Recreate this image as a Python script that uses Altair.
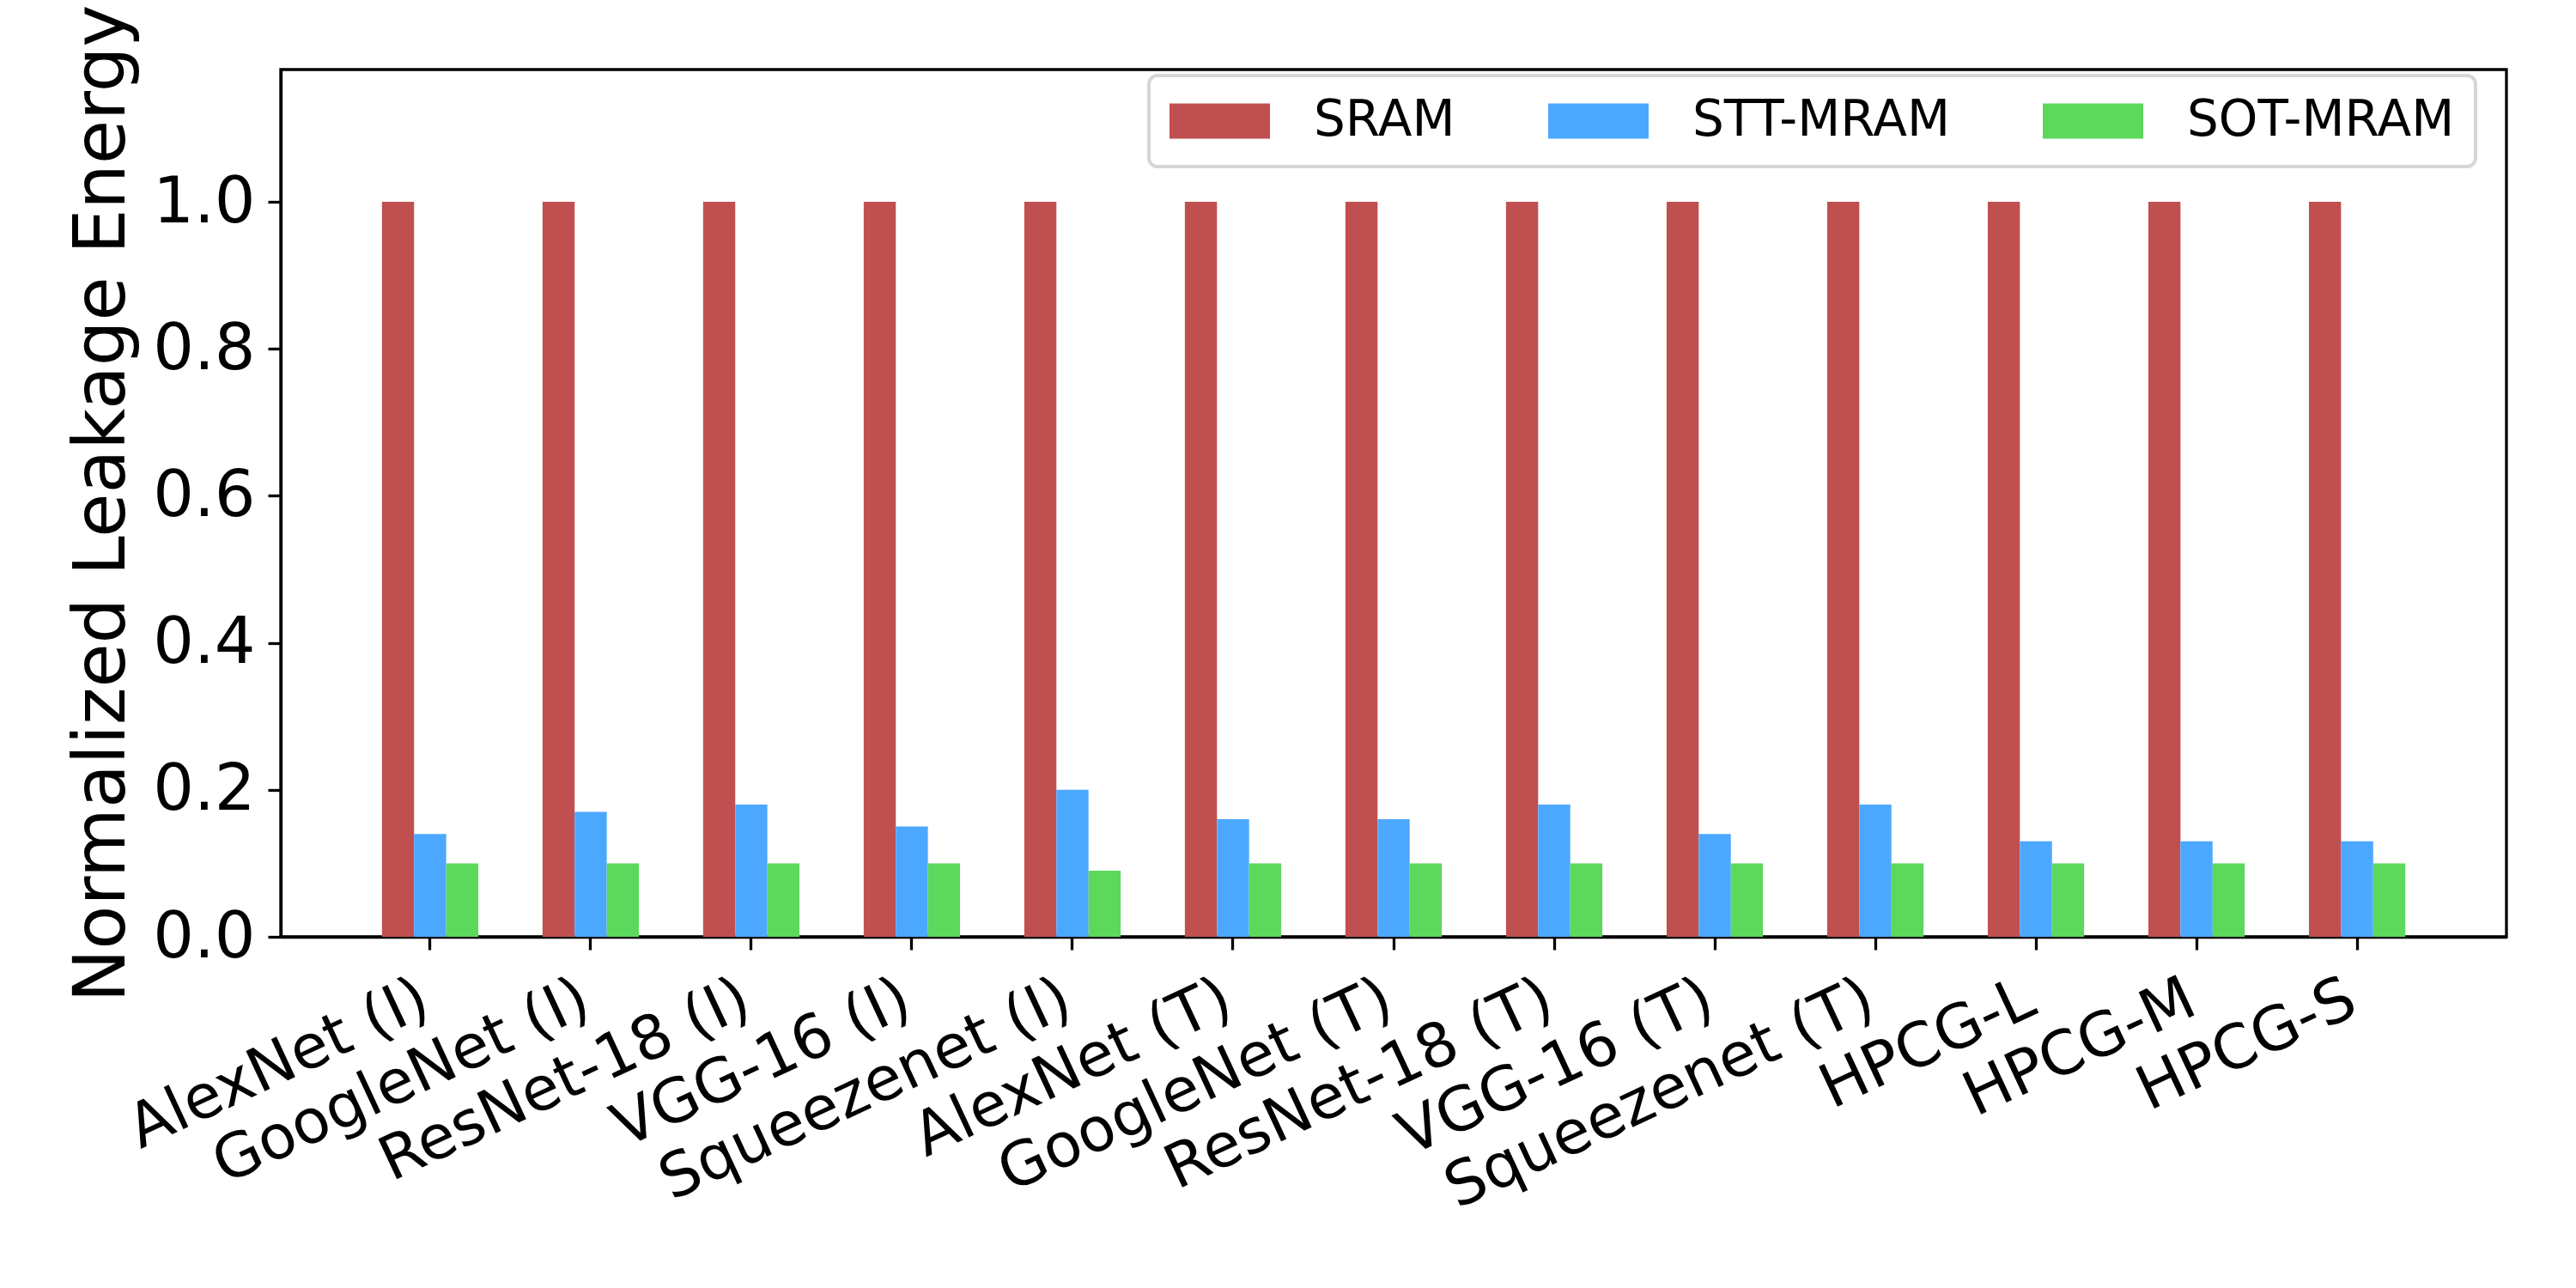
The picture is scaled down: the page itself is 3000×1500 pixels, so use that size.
import altair as alt
import pandas as pd

benchmarks = ["AlexNet (I)", "GoogleNet (I)", "ResNet-18 (I)", "VGG-16 (I)", "Squeezenet (I)",
              "AlexNet (T)", "GoogleNet (T)", "ResNet-18 (T)", "VGG-16 (T)", "Squeezenet (T)",
              "HPCG-L", "HPCG-M", "HPCG-S"]
memories = ["SRAM", "STT-MRAM", "SOT-MRAM"]
sram = [1.0, 1.0, 1.0, 1.0, 1.0, 1.0, 1.0, 1.0, 1.0, 1.0, 1.0, 1.0, 1.0]
stt = [0.14, 0.17, 0.18, 0.15, 0.20, 0.16, 0.16, 0.18, 0.14, 0.18, 0.13, 0.13, 0.13]
sot = [0.10, 0.10, 0.10, 0.10, 0.09, 0.10, 0.10, 0.10, 0.10, 0.10, 0.10, 0.10, 0.10]
colors = ["#c05050", "#4ca8ff", "#5cd85c"]
y_ticks = [0.0, 0.2, 0.4, 0.6, 0.8, 1.0]

rows = []
for name, series in zip(memories, [sram, stt, sot]):
    for b, v in zip(benchmarks, series):
        rows.append({"bench": b, "mem": name, "value": v})
df = pd.DataFrame(rows)

FONT = "DejaVu Sans"

chart = alt.Chart(df).mark_bar().encode(
    x=alt.X("bench:N", sort=benchmarks, title=None,
            scale=alt.Scale(paddingInner=0, paddingOuter=0.43),
            axis=alt.Axis(labelAngle=-25, labelAlign="right", labelBaseline="top",
                          labelFontSize=71, labelFont=FONT, labelColor="black",
                          labelPadding=22, labelOffset=-20, labelLimit=0,
                          tickSize=15, tickWidth=3.3, tickColor="black",
                          domainWidth=3.3, domainColor="black", grid=False)),
    xOffset=alt.XOffset("mem:N", sort=memories,
                        scale=alt.Scale(paddingInner=0, paddingOuter=1)),
    y=alt.Y("value:Q", title="Normalized Leakage Energy",
            scale=alt.Scale(domain=[0, 1.18], nice=False, zero=True),
            axis=alt.Axis(values=y_ticks, format=".1f", labelFontSize=75, labelFont=FONT,
                          labelColor="black", labelPadding=15,
                          tickSize=15, tickWidth=3.3, tickColor="black",
                          domainWidth=3.3, domainColor="black", grid=False,
                          titleFontSize=83, titleFont=FONT, titleFontWeight="normal",
                          titleColor="black", titlePadding=16, titleLimit=0)),
    color=alt.Color("mem:N", sort=memories,
                    scale=alt.Scale(domain=memories, range=colors),
                    legend=alt.Legend(title=None, orient="none", legendX=1011, legendY=7,
                                      direction="horizontal", columns=3,
                                      symbolType="M-1,-0.35H1V0.35H-1Z", symbolSize=13689,
                                      symbolStrokeWidth=0, symbolOpacity=1,
                                      labelFontSize=58, labelFont=FONT, labelColor="black",
                                      labelOffset=51, labelLimit=0, columnPadding=108,
                                      clipHeight=58,
                                      strokeColor="#d6d6d6",
                                      cornerRadius=10, fillColor="white")),
).properties(
    width=2592, height=1010,
    background="white",
    autosize=alt.AutoSizeParams(type="none"),
    padding={"left": 319, "top": 73, "right": 73, "bottom": 401},
).configure_view(
    stroke="black", strokeWidth=3.3
).configure_legend(
    padding=24, strokeWidth=4
)

chart.save("out.html", embed_options={"renderer": "svg", "actions": False})
